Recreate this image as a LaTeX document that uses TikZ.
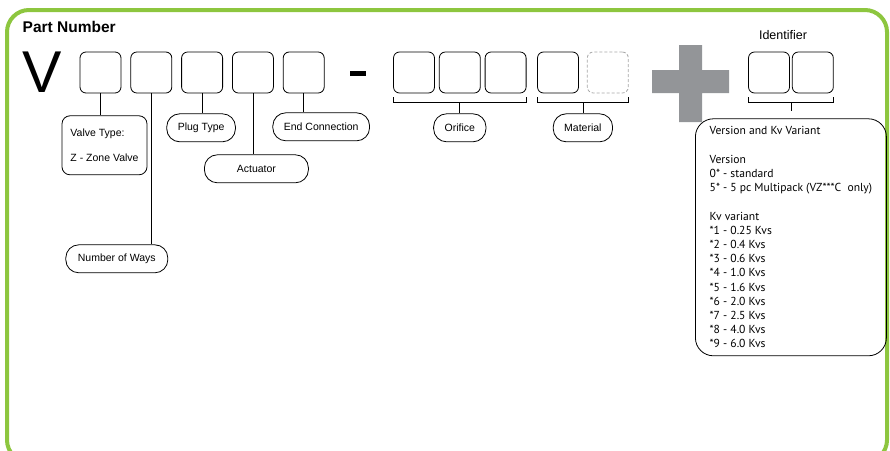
\documentclass[tikz,border=0pt]{standalone}
\usepackage{fontspec}
\setmainfont{Liberation Sans}
\newfontfamily\notefont{PT Sans}
\usetikzlibrary{positioning, calc}
\definecolor{framegreen}{HTML}{8DC63F}
\definecolor{plusgray}{HTML}{939598}
\tikzset{
  digit/.style={draw, rounded corners=6pt, minimum size=41pt, inner sep=0pt, line width=0.8pt}, % one code position
  spare/.style={digit, draw=gray!70, dash pattern=on 3pt off 2pt}, % optional position
  tag/.style={draw, rounded corners=13pt, minimum height=28pt, inner xsep=11pt, font=\fontsize{10.5}{12}\selectfont, line width=0.8pt},
  infobox/.style={draw, rounded corners=8pt, align=left, line width=0.8pt},
  stem/.style={line width=0.8pt}
}

\begin{document}
\begin{tikzpicture}[x=1pt, y=-1pt]
    \useasboundingbox (0,0) rectangle (890,450);

    % Frame
    \begin{scope}
        \clip (0,0) rectangle (890,450);
        \draw[framegreen, line width=4pt, rounded corners=22pt] (7,10) rectangle (887,462);
    \end{scope}

    % Heading
    \node[anchor=base west, inner sep=0pt, font=\fontsize{15.5}{18}\selectfont\bfseries] (title) at (22.5,32.5) {Part Number};
    \node[anchor=base west, inner sep=0pt, font=\fontsize{59}{60}\selectfont] (vee) at (22.5,92.7) {V};

    % Code positions
    \node[digit] (d1) at (100.5,72.5) {};
    \node[digit] (d2) [right=9pt of d1] {};
    \node[digit] (d3) [right=9pt of d2] {};
    \node[digit] (d4) [right=9pt of d3] {};
    \node[digit] (d5) [right=9pt of d4] {};
    \fill (350,71) rectangle (366,75.5);
    \node[digit] (o1) at (414,72.5) {};
    \node[digit] (o2) [right=4pt of o1] {};
    \node[digit] (o3) [right=4pt of o2] {};
    \node[digit] (m1) at (558,72.5) {};
    \node[spare] (m2) [right=8pt of m1] {};
    \fill[plusgray] (679,45) rectangle (702,122) (652,70) rectangle (729,93);
    \node[digit] (i1) at (769,72.5) {};
    \node[digit] (i2) [right=2pt of i1] {};
    \node[font=\fontsize{12.5}{14}\selectfont] (ident) at (783,35.5) {Identifier};

    % Brackets
    \foreach \a/\b/\n in {o1/o3/ori, m1/m2/mat, i1/i2/idf} {
        \draw[stem] ([yshift=-4pt]\a.south west) -- ([yshift=-9pt]\a.south west)
            -- ([yshift=-9pt]\b.south east) -- ([yshift=-4pt]\b.south east);
        \coordinate (\n) at ($([yshift=-9pt]\a.south west)!0.5!([yshift=-9pt]\b.south east)$);
    }

    % Labels
    \node[infobox, minimum width=85pt, minimum height=59pt, font=\fontsize{10.5}{25}\selectfont] (vtype) [below=22pt of d1, xshift=4pt] {Valve Type:\\Z - Zone Valve};
    \node[tag, minimum width=102pt] (ways) [below=151pt of d2, xshift=-34.5pt] {Number of Ways};
    \node[tag] (plug) [below=20pt of d3, xshift=-1pt] {Plug Type};
    \node[tag, minimum width=104pt] (act) [below=61pt of d4, xshift=3.5pt] {Actuator};
    \node[tag] (endc) [below=19pt of d5, xshift=17.5pt] {End Connection};
    \node[tag] (orifice) [below=11pt of ori] {Orifice};
    \node[tag] (material) [below=11pt of mat] {Material};
    \node[infobox, rounded corners=18pt, minimum width=191pt, minimum height=237pt, font=\notefont\fontsize{11.6}{14.2}\selectfont] (kv) [below=16pt of idf] {%
        Version and Kv Variant\\[14.2pt]
        Version\\
        0* - standard\\
        5* - 5 pc Multipack (VZ***C\ \ only)\\[14.2pt]
        Kv variant\\
        *1 - 0.25 Kvs\\
        *2 - 0.4 Kvs\\
        *3 - 0.6 Kvs\\
        *4 - 1.0 Kvs\\
        *5 - 1.6 Kvs\\
        *6 - 2.0 Kvs\\
        *7 - 2.5 Kvs\\
        *8 - 4.0 Kvs\\
        *9 - 6.0 Kvs};

    % Stems
    \foreach \d/\t in {d1/vtype, d2/ways, d3/plug, d4/act, d5/endc}
        \draw[stem] (\d.south) -- (\d.south |- \t.north);
    \draw[stem] (ori) -- (orifice);
    \draw[stem] (mat) -- (material);
    \draw[stem, shorten >=7pt] (idf) -- (kv);
\end{tikzpicture}
\end{document}
